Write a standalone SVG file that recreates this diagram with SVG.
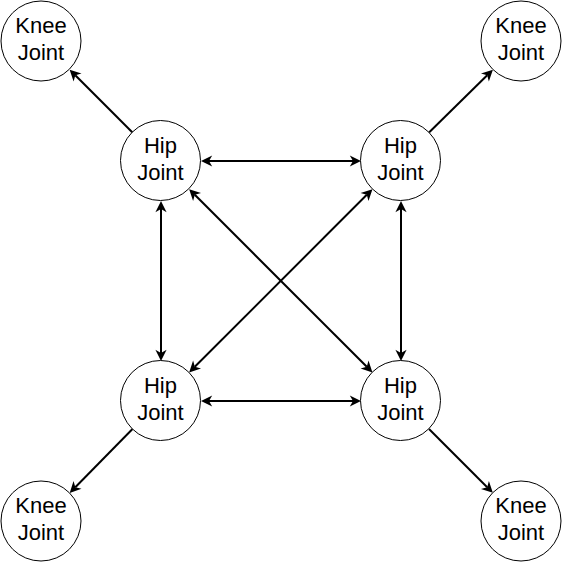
<svg xmlns="http://www.w3.org/2000/svg" width="562" height="562" viewBox="0 0 562 562">
<style>
.node circle{fill:#fff;stroke:#000;stroke-width:1}
.node text{font-family:"Liberation Sans",Arial,sans-serif;font-size:22px;fill:#000;text-anchor:middle}
.edges line{stroke:#000;stroke-width:2;fill:none}
</style>
<defs>
<marker id="arr" markerUnits="userSpaceOnUse" markerWidth="14" markerHeight="14" refX="0" refY="0" orient="auto-start-reverse" overflow="visible" viewBox="-4 -7 14 14">
<path d="M8,0 L-3.2,-5.6 L0,0 L-3.2,5.6 Z" fill="#000"/>
</marker>
</defs>
<rect width="562" height="562" fill="#fff"/>
<g class="edges">
<line x1="132.5" y1="132.5" x2="75.3" y2="75.3" marker-end="url(#arr)"/>
<line x1="429" y1="132.5" x2="487.2" y2="75.3" marker-end="url(#arr)"/>
<line x1="132.5" y1="429" x2="75.3" y2="487.2" marker-end="url(#arr)"/>
<line x1="429" y1="429" x2="487.2" y2="487.2" marker-end="url(#arr)"/>
<line x1="209" y1="161" x2="353" y2="161" marker-start="url(#arr)" marker-end="url(#arr)"/>
<line x1="209" y1="401" x2="353" y2="401" marker-start="url(#arr)" marker-end="url(#arr)"/>
<line x1="161" y1="209" x2="161" y2="353" marker-start="url(#arr)" marker-end="url(#arr)"/>
<line x1="401" y1="209" x2="401" y2="353" marker-start="url(#arr)" marker-end="url(#arr)"/>
<line x1="194.8" y1="194.8" x2="366.8" y2="366.8" marker-start="url(#arr)" marker-end="url(#arr)"/>
<line x1="366.8" y1="194.8" x2="194.8" y2="366.8" marker-start="url(#arr)" marker-end="url(#arr)"/>
</g>
<g id="knee-tl" class="node"><circle cx="41" cy="41" r="40"/><text x="41" y="33">Knee</text><text x="41" y="60">Joint</text></g>
<g id="knee-tr" class="node"><circle cx="521" cy="41" r="40"/><text x="521" y="33">Knee</text><text x="521" y="60">Joint</text></g>
<g id="knee-bl" class="node"><circle cx="41" cy="521" r="40"/><text x="41" y="513">Knee</text><text x="41" y="540">Joint</text></g>
<g id="knee-br" class="node"><circle cx="521" cy="521" r="40"/><text x="521" y="513">Knee</text><text x="521" y="540">Joint</text></g>
<g id="hip-tl" class="node"><circle cx="160.5" cy="160.5" r="40"/><text x="160.5" y="152.5">Hip</text><text x="160.5" y="180">Joint</text></g>
<g id="hip-tr" class="node"><circle cx="400.5" cy="160.5" r="40"/><text x="400.5" y="152.5">Hip</text><text x="400.5" y="180">Joint</text></g>
<g id="hip-bl" class="node"><circle cx="160.5" cy="400.5" r="40"/><text x="160.5" y="392.5">Hip</text><text x="160.5" y="420">Joint</text></g>
<g id="hip-br" class="node"><circle cx="400.5" cy="400.5" r="40"/><text x="400.5" y="392.5">Hip</text><text x="400.5" y="420">Joint</text></g>
</svg>
